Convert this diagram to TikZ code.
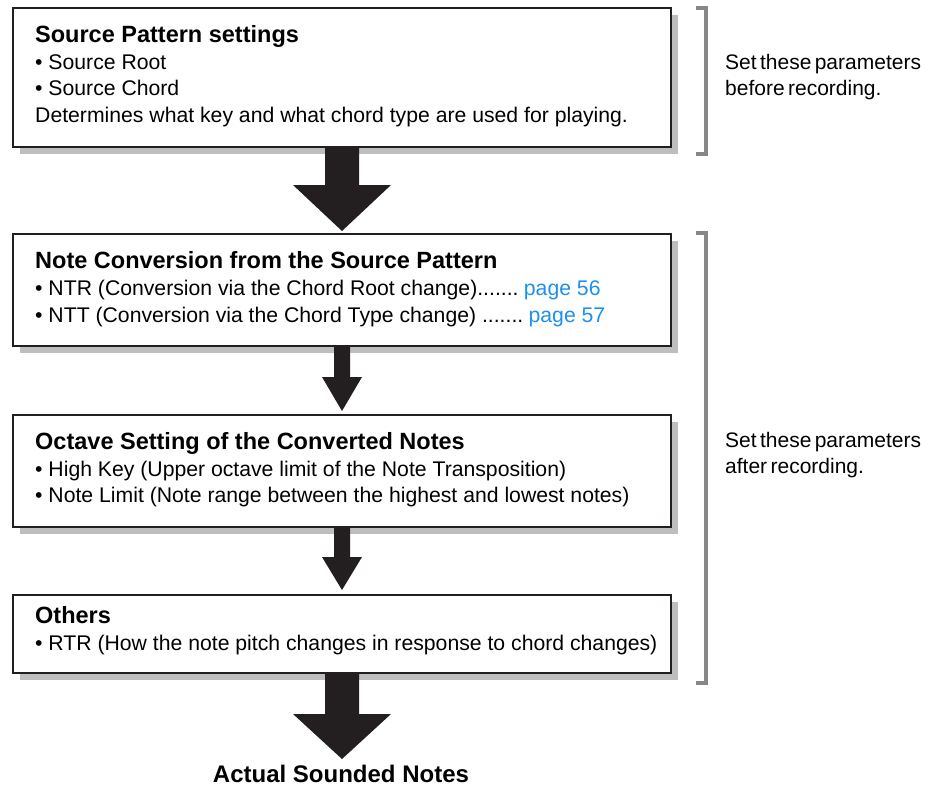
\documentclass[tikz,border=0pt]{standalone}
\usepackage{fontspec}
\setmainfont{Liberation Sans}
\usetikzlibrary{calc,shadows}
\definecolor{shadowgray}{HTML}{BDBEC0}
\definecolor{brgray}{HTML}{878787}
\definecolor{linkblue}{HTML}{1E90F0}
\definecolor{boxline}{HTML}{231F20}
\newcommand{\tightspace}{\spaceskip=0.16em plus 0.05em\relax}
\begin{document}
\begin{tikzpicture}[x=1pt,y=-1pt,
  box/.style={draw=boxline, line width=2pt, fill=white, anchor=north west,
    minimum width=658pt, inner sep=0pt,
    general shadow={fill=shadowgray, shadow xshift=7pt, shadow yshift=-7pt}},
  ttl/.style={anchor=base west, inner sep=0pt, font=\fontsize{23.5}{27}\selectfont\bfseries},
  txt/.style={anchor=base west, inner sep=0pt, font=\fontsize{21.2}{25}\selectfont},
  side/.style={anchor=base west, inner sep=0pt, font=\fontsize{21}{25}\selectfont\tightspace},
  bracket/.style={draw=brgray, line width=3.5pt},
  fatarrow/.style={fill=boxline}
]
\useasboundingbox (0,0) rectangle (933,787);

% boxes
\node[box, minimum height=139pt] (b1) at (12,7) {};
\node[box, minimum height=112pt] (b2) at (12,233) {};
\node[box, minimum height=112pt] (b3) at (12,414) {};
\node[box, minimum height=78pt] (b4) at (12,594) {};

% box 1 text
\node[ttl] (t1) at (35,42) {Source Pattern settings};
\node[txt] (t1a) at (35,69) {• Source Root};
\node[txt] (t1b) at (35,95) {• Source Chord};
\node[txt] (t1c) at (35,122) {Determines what key and what chord type are used for playing.};

% box 2 text
\node[ttl] (t2) at (35,268) {Note Conversion from the Source Pattern};
\node[txt] (t2a) at (35,295) {• NTR (Conversion via the Chord Root change).......\hspace{0.25em}\textcolor{linkblue}{page 56}};
\node[txt] (t2b) at (35,322) {• NTT (Conversion via the Chord Type change) .......\hspace{0.25em}\textcolor{linkblue}{page 57}};

% box 3 text
\node[ttl] (t3) at (35,449) {Octave Setting of the Converted Notes};
\node[txt] (t3a) at (35,476) {• High Key (Upper octave limit of the Note Transposition)};
\node[txt] (t3b) at (35,502) {• Note Limit (Note range between the highest and lowest notes)};

% box 4 text
\node[ttl] (t4) at (35,623) {Others};
\node[txt] (t4a) at (35,650) {• RTR (How the note pitch changes in response to chord changes)};

% final label
\node[anchor=base, inner sep=0pt, font=\fontsize{24}{28}\selectfont\bfseries] (out) at (341,782) {Actual Sounded Notes};

% arrows
\fill[fatarrow] ($(b1.south)+(-17,0)$) -- ($(b1.south)+(17,0)$) -- ($(b1.south)+(17,37)$)
  -- ($(b1.south)+(49,37)$) -- ($(b2.north)+(0,-2)$) -- ($(b1.south)+(-49,37)$)
  -- ($(b1.south)+(-17,37)$) -- cycle;
\fill[fatarrow] ($(b2.south)+(-8,0)$) -- ($(b2.south)+(8,0)$) -- ($(b2.south)+(8,30)$)
  -- ($(b2.south)+(20,30)$) -- ($(b3.north)+(0,-3)$) -- ($(b2.south)+(-20,30)$)
  -- ($(b2.south)+(-8,30)$) -- cycle;
\fill[fatarrow] ($(b3.south)+(-8,0)$) -- ($(b3.south)+(8,0)$) -- ($(b3.south)+(8,29)$)
  -- ($(b3.south)+(20,29)$) -- ($(b4.north)+(0,-4)$) -- ($(b3.south)+(-20,29)$)
  -- ($(b3.south)+(-8,29)$) -- cycle;
\coordinate (tip4) at ($(b4.south)+(0,85)$);
\fill[fatarrow] ($(b4.south)+(-17,0)$) -- ($(b4.south)+(17,0)$) -- ($(b4.south)+(17,40)$)
  -- ($(b4.south)+(49,40)$) -- (tip4) -- ($(b4.south)+(-49,40)$)
  -- ($(b4.south)+(-17,40)$) -- cycle;

% brackets
\coordinate (br1t) at (696,8);
\coordinate (br1b) at (696,154);
\draw[bracket] (br1t) -- ++(10,0) |- (br1b);
\node[side] (s1a) at (725,69) {Set these parameters};
\node[side] (s1b) at (725,95) {before recording.};

\coordinate (br2t) at (696,233);
\coordinate (br2b) at (696,683);
\draw[bracket] (br2t) -- ++(10,0) |- (br2b);
\node[side] (s2a) at (725,447) {Set these parameters};
\node[side] (s2b) at (725,473) {after recording.};
\end{tikzpicture}
\end{document}
